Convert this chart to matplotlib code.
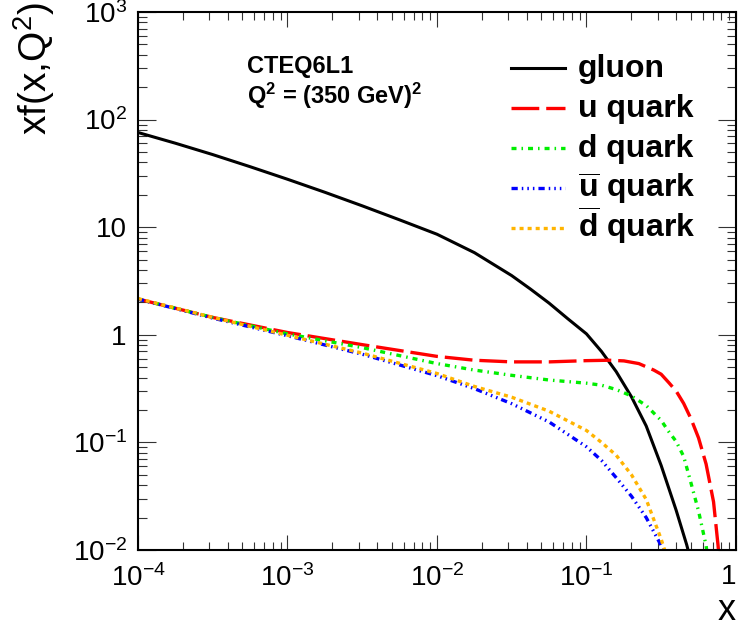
import matplotlib
matplotlib.use("Agg")
import matplotlib.pyplot as plt
from matplotlib.ticker import LogLocator, NullFormatter

plt.rcParams['font.family'] = ['Liberation Sans', 'DejaVu Sans']
plt.rcParams['mathtext.fontset'] = 'custom'
plt.rcParams['mathtext.rm'] = 'Liberation Sans'
plt.rcParams['mathtext.it'] = 'Liberation Sans:italic'
plt.rcParams['mathtext.bf'] = 'Liberation Sans:bold'
plt.rcParams['lines.scale_dashes'] = False

# ---- data ----
gluon_x = [1e-4, 1.78e-4, 3.16e-4, 5.62e-4, 1e-3, 1.78e-3, 3.16e-3, 5.62e-3, 0.01,
           0.0178, 0.0316, 0.0422, 0.0562, 0.075, 0.1, 0.126, 0.158, 0.2, 0.251,
           0.316, 0.398, 0.468, 0.5]
gluon_y = [75.9, 60.3, 47.3, 36.5, 27.9, 21.1, 15.8, 11.7, 8.6,
           5.8, 3.55, 2.66, 1.97, 1.41, 1.02, 0.70, 0.455, 0.265, 0.142,
           0.061, 0.0234, 0.0112, 0.0079]

u_x = [1e-4, 3.16e-4, 1e-3, 3.16e-3, 0.01, 0.0178, 0.0316, 0.0562, 0.1, 0.141,
       0.178, 0.224, 0.282, 0.316, 0.355, 0.398, 0.447, 0.5, 0.562, 0.631,
       0.708, 0.759, 0.794]
u_y = [2.15, 1.45, 1.05, 0.81, 0.63, 0.58, 0.56, 0.56, 0.575, 0.58,
       0.572, 0.54, 0.47, 0.43, 0.36, 0.30, 0.23, 0.166, 0.11, 0.063,
       0.028, 0.011, 0.005]

d_x = [1e-4, 3.16e-4, 1e-3, 3.16e-3, 0.01, 0.0178, 0.0316, 0.0562, 0.1, 0.126,
       0.158, 0.2, 0.251, 0.316, 0.355, 0.398, 0.447, 0.5, 0.562, 0.631, 0.676]
d_y = [2.15, 1.45, 1.02, 0.76, 0.54, 0.47, 0.42, 0.38, 0.355, 0.34,
       0.31, 0.27, 0.22, 0.16, 0.126, 0.102, 0.074, 0.042, 0.023, 0.011, 0.0056]

ubar_x = [1e-4, 3.16e-4, 1e-3, 3.16e-3, 0.01, 0.0178, 0.0316, 0.0562, 0.1, 0.126,
          0.158, 0.2, 0.251, 0.316, 0.355]
ubar_y = [2.15, 1.43, 0.98, 0.66, 0.417, 0.316, 0.229, 0.155, 0.091, 0.068,
          0.047, 0.0316, 0.020, 0.011, 0.0076]

dbar_x = [1e-4, 3.16e-4, 1e-3, 3.16e-3, 0.01, 0.0178, 0.0316, 0.0562, 0.1, 0.126,
          0.158, 0.2, 0.251, 0.316, 0.355]
dbar_y = [2.17, 1.45, 0.99, 0.676, 0.437, 0.331, 0.263, 0.195, 0.129, 0.10,
          0.076, 0.050, 0.0295, 0.0126, 0.0076]

labels = ['gluon', 'u quark', 'd quark',
          r'$\mathbf{\overline{u}}$ quark', r'$\mathbf{\overline{d}}$ quark']
xticks = [1e-4, 1e-3, 1e-2, 1e-1, 1]
xticklabels = [r'$10^{-4}$', r'$10^{-3}$', r'$10^{-2}$', r'$10^{-1}$', '1']
yticks = [1e-2, 1e-1, 1, 10, 1e2, 1e3]
yticklabels = [r'$10^{-2}$', r'$10^{-1}$', '1', '10', r'$10^{2}$', r'$10^{3}$']

W, H = 739.0, 634.0
fig = plt.figure(figsize=(7.39, 6.34), dpi=100)
ax = fig.add_axes([0.1867, 0.1325, 0.8092, 0.8486])

styles = [
    dict(color='black', lw=2.2, ls='-'),
    dict(color='#ff0000', lw=2.4, ls=(0, (20, 5))),
    dict(color='#00ee00', lw=2.4, ls=(0, (3.6, 3.6, 1.1, 3.6))),
    dict(color='#0000ff', lw=2.4, ls=(0, (4.5, 2.9, 1.1, 2.9, 1.1, 2.9, 1.1, 2.9))),
    dict(color='#ffb400', lw=2.4, ls=(0, (2.9, 2.9))),
]
series = [(gluon_x, gluon_y), (u_x, u_y), (d_x, d_y), (ubar_x, ubar_y), (dbar_x, dbar_y)]
for (xs, ys), st in zip(series, styles):
    ax.plot(xs, ys, **st)

ax.set_xscale('log')
ax.set_yscale('log')
ax.set_xlim(1e-4, 1)
ax.set_ylim(1e-2, 1e3)

ax.set_xticks(xticks)
ax.set_xticklabels(xticklabels)
ax.set_yticks(yticks)
ax.set_yticklabels(yticklabels)
ax.xaxis.set_minor_locator(LogLocator(base=10, subs=range(2, 10), numticks=20))
ax.yaxis.set_minor_locator(LogLocator(base=10, subs=range(2, 10), numticks=20))
ax.xaxis.set_minor_formatter(NullFormatter())
ax.yaxis.set_minor_formatter(NullFormatter())

ax.tick_params(axis='both', which='both', direction='in', top=True, right=True,
               labelsize=20, color='#333333', width=0.8)
ax.tick_params(axis='x', which='major', length=10.8, pad=10)
ax.tick_params(axis='x', which='minor', length=5.8)
ax.tick_params(axis='y', which='major', length=13, pad=8)
ax.tick_params(axis='y', which='minor', length=6.5)
for s in ax.spines.values():
    s.set_linewidth(1.5)
# keep the last x label ("1") inside the canvas, as in the reference
ax.get_xticklabels()[-1].set_horizontalalignment('right')

fig.text(34 / W, 1 - 2 / H, r'xf(x,Q$^{2}$)', rotation=90, ha='center', va='top',
         fontsize=28)
fig.text(736 / W, 1 - 610 / H, 'x', ha='right', va='center', fontsize=26)

fig.text(247 / W, 1 - 73 / H, 'CTEQ6L1', fontsize=17, fontweight='bold',
         ha='left', va='baseline')
fig.text(247 / W, 1 - 104 / H, r'Q$^{\mathbf{2}}$ = (350 GeV)$^{\mathbf{2}}$',
         fontsize=17, fontweight='bold', ha='left', va='baseline')

# legend drawn by hand to match the reference row spacing
leg_rows = [68, 108, 148, 188, 228]
for row, st, lab in zip(leg_rows, styles, labels):
    yf = 1 - row / H
    fig.add_artist(plt.Line2D([511 / W, 565 / W], [yf, yf], transform=fig.transFigure,
                              **st))
    fig.text(578 / W, 1 - (row + 9) / H, lab, fontsize=23, fontweight='bold',
             ha='left', va='baseline')

fig.savefig('out.png', dpi=100)
